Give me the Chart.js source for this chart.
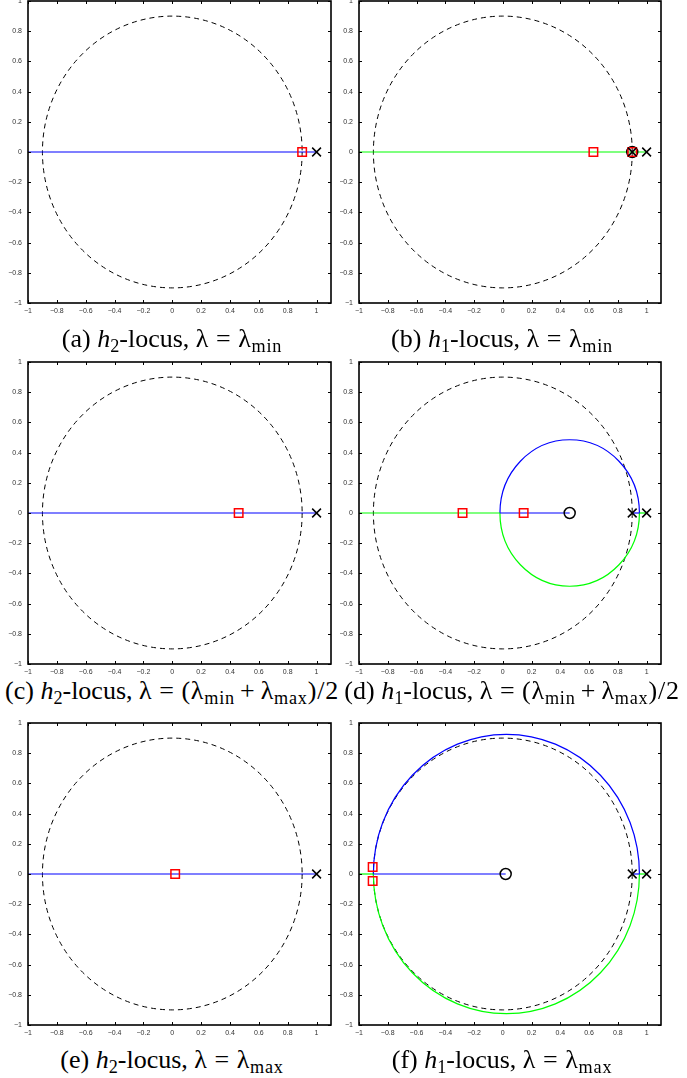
<!DOCTYPE html>
<html>
<head>
<meta charset="utf-8">
<script src="https://cdn.jsdelivr.net/npm/chart.js@4"></script>
<style>
  html, body { margin: 0; padding: 0; background: #fff; }
  body { position: relative; width: 687px; height: 1078px; overflow: hidden; }
  canvas.panel { position: absolute; }
  .cap {
    position: absolute; white-space: nowrap; transform: translateX(-50%);
    font-family: "Liberation Serif", "Times New Roman", serif; font-size: 26px; line-height: 26px; color: #000;
  }
  .cap i { font-style: italic; }
  .cap sub { font-size: 70%; vertical-align: -0.3em; line-height: 0; }
  .cap .rel { margin: 0 0.26em; }
  .cap .bin { margin: 0 0.2em; }
  .cap .m { letter-spacing: 0.03em; }
</style>
</head>
<body>
<canvas class="panel" id="pa" width="345" height="325" style="left:0;top:-10px"></canvas>
<canvas class="panel" id="pb" width="340" height="325" style="left:340px;top:-10px"></canvas>
<canvas class="panel" id="pc" width="345" height="325" style="left:0;top:351px"></canvas>
<canvas class="panel" id="pd" width="340" height="325" style="left:340px;top:351px"></canvas>
<canvas class="panel" id="pe" width="345" height="325" style="left:0;top:712px"></canvas>
<canvas class="panel" id="pf" width="340" height="325" style="left:340px;top:712px"></canvas>

<div class="cap" style="left:172px;top:326px">(a) <i>h</i><sub>2</sub>-locus, <span class="m">λ<span class="rel">=</span>λ<sub>min</sub></span></div>
<div class="cap" style="left:502px;top:326px">(b) <i>h</i><sub>1</sub>-locus, <span class="m">λ<span class="rel">=</span>λ<sub>min</sub></span></div>
<div class="cap" style="left:172px;top:678px">(c) <i>h</i><sub>2</sub>-locus, <span class="m">λ<span class="rel">=</span>(λ<sub>min</sub><span class="bin">+</span>λ<sub>max</sub>)/2</span></div>
<div class="cap" style="left:512px;top:678px">(d) <i>h</i><sub>1</sub>-locus, <span class="m">λ<span class="rel">=</span>(λ<sub>min</sub><span class="bin">+</span>λ<sub>max</sub>)/2</span></div>
<div class="cap" style="left:172px;top:1047px">(e) <i>h</i><sub>2</sub>-locus, <span class="m">λ<span class="rel">=</span>λ<sub>max</sub></span></div>
<div class="cap" style="left:502px;top:1047px">(f) <i>h</i><sub>1</sub>-locus, <span class="m">λ<span class="rel">=</span>λ<sub>max</sub></span></div>

<script>
// ── Data ─────────────────────────────────────────────────────────────────────
const xTickVals = [-1, -0.8, -0.6, -0.4, -0.2, 0, 0.2, 0.4, 0.6, 0.8, 1];
const yTickVals = [-1, -0.8, -0.6, -0.4, -0.2, 0, 0.2, 0.4, 0.6, 0.8, 1];
const xRange = [-1, 1.1];
const yRange = [-1, 1];

// dashed reference circle (centre x, centre y, radius)
const refCircle = [0, 0, 0.9];

// (a) h2-locus, lambda_min
const aBlue    = [[-1, 0], [1, 0]];
const aSquares = [[0.9, 0]];
const aCrosses = [[1, 0]];

// (b) h1-locus, lambda_min
const bGreen   = [[-1, 0], [1, 0]];
const bSquares = [[0.63, 0], [0.9, 0]];
const bCircles = [[0.9, 0]];
const bCrosses = [[0.9, 0], [1, 0]];

// (c) h2-locus, (lambda_min + lambda_max)/2
const cBlue    = [[-1, 0], [1, 0]];
const cSquares = [[0.46, 0]];
const cCrosses = [[1, 0]];

// (d) h1-locus, (lambda_min + lambda_max)/2
const dGreenL  = [[-1, 0], [-0.02, 0]];
const dGreenR  = [[0.95, 0], [1, 0]];
const dBlueL   = [[-0.02, 0], [0.465, 0]];
const dBlueR   = [[0.9, 0], [0.95, 0]];
const dLoop    = [0.465, 0, 0.485];
const dSquares = [[-0.28, 0], [0.145, 0]];
const dCircles = [[0.465, 0]];
const dCrosses = [[0.9, 0], [1, 0]];

// (e) h2-locus, lambda_max
const eBlue    = [[-1, 0], [1, 0]];
const eSquares = [[0.02, 0]];
const eCrosses = [[1, 0]];

// (f) h1-locus, lambda_max
const fGreenL  = [[-1, 0], [-0.9, 0]];
const fGreenR  = [[0.95, 0], [1, 0]];
const fBlueL   = [[-0.9, 0], [0.02, 0]];
const fBlueR   = [[0.9, 0], [0.95, 0]];
const fLoop    = [0.025, 0, 0.925];
const fSquares = [[-0.905, 0.046], [-0.905, -0.046]];
const fCircles = [[0.02, 0]];
const fCrosses = [[0.9, 0], [1, 0]];

const BLUE = '#0000ff', GREEN = '#00ff00', RED = '#ff0000';

// ── Helpers ──────────────────────────────────────────────────────────────────
const pts = arr => arr.map(([x, y]) => ({ x, y }));
const fmt = v => (Math.round(v * 10) / 10).toString().replace('-', '\u2212');

function lineDs(arr, color) {
  return { data: pts(arr), showLine: true, borderColor: color, borderWidth: 1.2, pointRadius: 0, fill: false };
}
function markDs(arr, style) {
  const m = {
    square: { pointStyle: 'rect',     pointRadius: 6,   borderColor: RED,    borderWidth: 1.5 },
    circle: { pointStyle: 'circle',   pointRadius: 5.5, borderColor: '#000', borderWidth: 1.5 },
    cross:  { pointStyle: 'crossRot', pointRadius: 6.2, borderColor: '#000', borderWidth: 1.5 },
  }[style];
  return { data: pts(arr), showLine: false, pointBackgroundColor: 'rgba(0,0,0,0)', pointBorderColor: m.borderColor,
           pointBorderWidth: m.borderWidth, pointStyle: m.pointStyle, pointRadius: m.pointRadius };
}

// ── Plugins ──────────────────────────────────────────────────────────────────
// ellipse arcs (circles in data units) drawn through the chart's scales
const arcPlugin = {
  id: 'arcs',
  beforeDatasetsDraw(chart, args, opts) {
    const { ctx, chartArea: a, scales: { x, y } } = chart;
    ctx.save();
    ctx.beginPath(); ctx.rect(a.left, a.top, a.right - a.left, a.bottom - a.top); ctx.clip();
    (opts.items || []).forEach(it => {
      const [c0, c1, r] = it.c;
      const cx = x.getPixelForValue(c0), cy = y.getPixelForValue(c1);
      const rx = x.getPixelForValue(c0 + r) - cx;
      const ry = cy - y.getPixelForValue(c1 + r);
      const span = it.half === 'upper' ? [Math.PI, 2 * Math.PI] : it.half === 'lower' ? [0, Math.PI] : [0, 2 * Math.PI];
      ctx.strokeStyle = it.color; ctx.lineWidth = it.width || 1.2;
      ctx.setLineDash(it.dash ? [5, 4] : []);
      ctx.beginPath();
      ctx.ellipse(cx, cy, rx, ry, 0, span[0], span[1]);
      ctx.stroke();
    });
    ctx.restore();
  }
};

// matlab-like box with inward ticks on all four sides
const framePlugin = {
  id: 'frame',
  afterDraw(chart) {
    const { ctx, chartArea: a, scales: { x, y } } = chart;
    const t = 3;
    ctx.save();
    ctx.strokeStyle = '#000'; ctx.lineWidth = 1;
    ctx.beginPath();
    xTickVals.forEach(v => {
      const px = Math.round(x.getPixelForValue(v)) + 0.5;
      ctx.moveTo(px, a.bottom); ctx.lineTo(px, a.bottom - t);
      ctx.moveTo(px, a.top);    ctx.lineTo(px, a.top + t);
    });
    yTickVals.forEach(v => {
      const py = Math.round(y.getPixelForValue(v)) + 0.5;
      ctx.moveTo(a.left, py);  ctx.lineTo(a.left + t, py);
      ctx.moveTo(a.right, py); ctx.lineTo(a.right - t, py);
    });
    ctx.stroke();
    ctx.lineWidth = 1.6;
    ctx.strokeRect(a.left, a.top, a.right - a.left, a.bottom - a.top);
    ctx.restore();
  }
};

// ── Panels ───────────────────────────────────────────────────────────────────
function makePanel(id, yWidth, padRight, datasets, loops) {
  const tickFont = { family: 'Liberation Sans, Arial, sans-serif', size: 7 };
  const arcs = [{ c: refCircle, color: '#000', dash: true, width: 1 }];
  if (loops) {
    arcs.push({ c: loops, half: 'upper', color: BLUE });
    arcs.push({ c: loops, half: 'lower', color: GREEN });
  }
  new Chart(document.getElementById(id), {
    type: 'scatter',
    data: { datasets },
    options: {
      responsive: false, animation: false, events: [],
      layout: { padding: { top: 11, right: padRight, bottom: 0, left: 0 } },
      plugins: { legend: { display: false }, tooltip: { enabled: false }, arcs: { items: arcs } },
      scales: {
        x: {
          type: 'linear', min: xRange[0], max: xRange[1],
          grid: { display: false, drawTicks: false }, border: { display: false },
          afterBuildTicks: s => { s.ticks = xTickVals.map(v => ({ value: v })); },
          afterFit: s => { s.height = 12; },
          ticks: { font: tickFont, color: '#333', padding: 4, maxRotation: 0, autoSkip: false, callback: v => fmt(v) },
        },
        y: {
          type: 'linear', min: yRange[0], max: yRange[1],
          grid: { display: false, drawTicks: false }, border: { display: false },
          afterBuildTicks: s => { s.ticks = yTickVals.map(v => ({ value: v })); },
          afterFit: s => { s.width = yWidth; },
          ticks: { font: tickFont, color: '#333', padding: 6, autoSkip: false, callback: v => fmt(v) },
        },
      },
    },
    plugins: [arcPlugin, framePlugin],
  });
}

makePanel('pa', 28, 14, [
  markDs(aSquares, 'square'), markDs(aCrosses, 'cross'),
  lineDs(aBlue, BLUE),
]);
makePanel('pb', 19, 19, [
  markDs(bCrosses, 'cross'), markDs(bSquares, 'square'), markDs(bCircles, 'circle'),
  lineDs(bGreen, GREEN),
]);
makePanel('pc', 28, 14, [
  markDs(cSquares, 'square'), markDs(cCrosses, 'cross'),
  lineDs(cBlue, BLUE),
]);
makePanel('pd', 19, 19, [
  markDs(dSquares, 'square'), markDs(dCircles, 'circle'), markDs(dCrosses, 'cross'),
  lineDs(dBlueL, BLUE), lineDs(dBlueR, BLUE), lineDs(dGreenL, GREEN), lineDs(dGreenR, GREEN),
], dLoop);
makePanel('pe', 28, 14, [
  markDs(eSquares, 'square'), markDs(eCrosses, 'cross'),
  lineDs(eBlue, BLUE),
]);
makePanel('pf', 19, 19, [
  markDs(fSquares, 'square'), markDs(fCircles, 'circle'), markDs(fCrosses, 'cross'),
  lineDs(fBlueL, BLUE), lineDs(fBlueR, BLUE), lineDs(fGreenL, GREEN), lineDs(fGreenR, GREEN),
], fLoop);
</script>
</body>
</html>
